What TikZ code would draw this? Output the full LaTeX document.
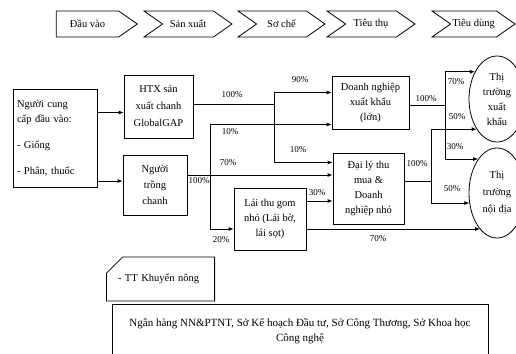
\documentclass[tikz,border=0pt]{standalone}
\usepackage{fontspec}
\setmainfont{Liberation Serif}
\usetikzlibrary{arrows.meta,shapes.geometric,shapes.symbols,shapes.misc}

\begin{document}
\begin{tikzpicture}[
  x=1pt,
  y=-1pt,
  line width=0.8pt,
  every node/.style={font=\fontsize{10.5}{15}\selectfont},
  stage/.style={
    draw,
    signal,
    signal to=east,
    signal from=west,
    signal pointer angle=70,
    minimum height=26,
    inner sep=0pt,
    font=\fontsize{10.5}{12}\selectfont
  },
  block/.style={
    draw,
    rectangle,
    align=center,
    inner sep=2pt
  },
  market/.style={
    draw,
    ellipse,
    align=center,
    minimum width=56,
    inner sep=0pt
  },
  note/.style={
    draw,
    chamfered rectangle,
    chamfered rectangle corners=north west,
    chamfered rectangle xsep=16,
    chamfered rectangle ysep=8,
    align=left
  },
  pct/.style={font=\fontsize{9}{10}\selectfont, inner sep=1pt},
  arrow/.style={-{Latex[length=5pt,width=4pt]}}
]
\useasboundingbox (0,0) rectangle (516,353);

\node[stage, signal from=nowhere, minimum width=81] (input) at (87.5,24) {Đầu vào};
\node[stage, minimum width=88] (produce) at (188,24) {Sản xuất};
\node[stage, minimum width=87] (process) at (281.5,24) {Sơ chế};
\node[stage, minimum width=88] (trade) at (371,24) {Tiêu thụ};
\node[stage, minimum width=83] (consume) at (473.5,24) {Tiêu dùng};

\node[block, minimum width=84, minimum height=98, text width=76, align=left] (supply) at (55,138) {Người cung\\cấp đầu vào:\\[11pt]- Giống\\[11pt]- Phân, thuốc};
\node[block, minimum width=69, minimum height=63] (htx) at (158.5,106.5) {HTX sản\\[2pt]xuất chanh\\[2pt]GlobalGAP};
\node[block, minimum width=64, minimum height=60] (trong) at (155,185) {Người\\[1pt]trồng\\[1pt]chanh};
\node[block, minimum width=72, minimum height=62] (lai) at (270,219) {Lái thu gom\\nhỏ (Lái bờ,\\lái sọt)};
\node[block, minimum width=77, minimum height=53] (dn) at (370.5,102.5) {Doanh nghiệp\\xuất khẩu\\(lớn)};
\node[block, minimum width=71, minimum height=71] (daily) at (368.5,188.5) {Đại lý thu\\mua \&\\Doanh\\nghiệp nhỏ};
\node[market, minimum height=86] (xk) at (497,99) {Thị\\trường\\xuất\\khẩu};
\node[market, minimum height=90] (nd) at (497,193) {Thị\\[2pt]trường\\[2pt]nội địa};

\node[note, minimum width=97, minimum height=44, text width=85] (tt) at (160.5,279) {- TT Khuyến nông};
\node[block, minimum width=376, minimum height=54, font=\fontsize{11}{15}\selectfont] (bank) at (300,331) {Ngân hàng NN\&PTNT, Sở Kế hoạch Đầu tư, Sở Công Thương, Sở Khoa học\\Công nghệ};

\coordinate (htxsplit) at (274,104);
\coordinate (growsplit) at (210,175);
\coordinate (dnsplit) at (445,105);
\coordinate (dlsplit) at (431,181);

\draw[arrow] ([yshift=-6]supply.east |- htx.west) -- ([yshift=-6]htx.west);
\draw[arrow] ([yshift=4]supply.east |- trong.west) -- ([yshift=4]trong.west);

\draw (htx.east |- htxsplit) -- (htxsplit);
\draw[arrow] (htxsplit) |- ([yshift=10]dn.west);
\draw[arrow] (htxsplit) |- ([yshift=26]daily.west);

\draw (trong.east |- growsplit) -- (growsplit);
\draw[arrow] (growsplit) -- (growsplit -| daily.west);
\draw[arrow] (growsplit) |- ([yshift=-22]dn.west);
\draw[arrow] (growsplit) |- ([yshift=-10]lai.west);

\draw[arrow] ([yshift=18]lai.east) -- ([yshift=18]lai.east -| daily.west);
\draw[arrow] ([yshift=-10]lai.east) -- ([yshift=-10]lai.east -| nd.245);

\draw (dn.east |- dnsplit) -- (dnsplit);
\draw[arrow] (dnsplit) |- (xk.129);
\draw[arrow] (dnsplit) |- (nd.119);

\draw (daily.east |- dlsplit) -- (dlsplit);
\draw[arrow] (dlsplit) |- (xk.236);
\draw[arrow] (dlsplit) |- (nd.200);

\node[pct] (p1) at (232,95) {100\%};
\node[pct] (p2) at (300,80) {90\%};
\node[pct] (p3) at (298,150) {10\%};
\node[pct] (p4) at (230,132) {10\%};
\node[pct] (p5) at (228,163) {70\%};
\node[pct] (p6) at (199,181) {100\%};
\node[pct] (p7) at (221,240) {20\%};
\node[pct] (p8) at (317,193) {30\%};
\node[pct] (p9) at (378,239) {70\%};
\node[pct] (p10) at (426,99) {100\%};
\node[pct] (p11) at (456,82) {70\%};
\node[pct] (p12) at (457,117) {50\%};
\node[pct] (p13) at (455,147) {30\%};
\node[pct] (p14) at (417,164) {100\%};
\node[pct] (p15) at (452,189) {50\%};
\end{tikzpicture}
\end{document}
